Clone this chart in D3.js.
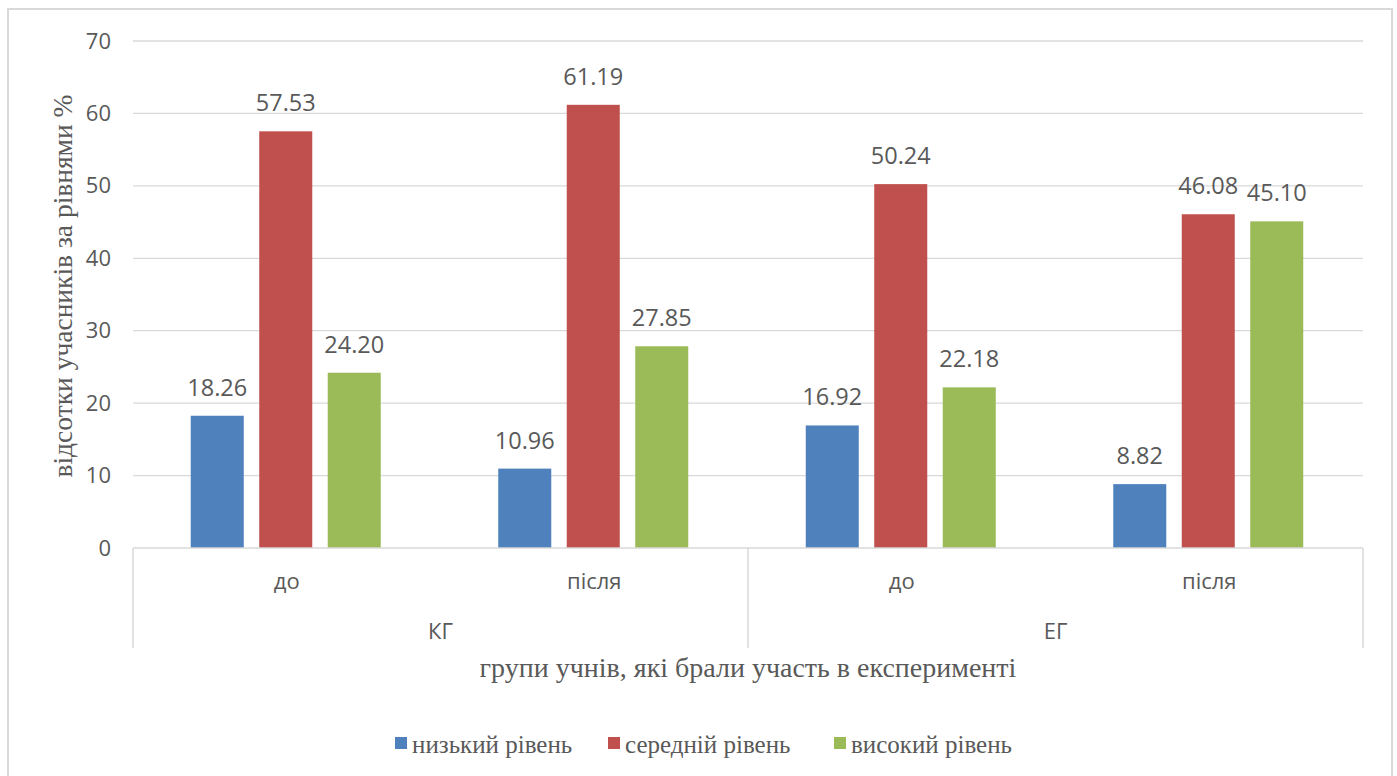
<!DOCTYPE html>
<html>
<head>
<meta charset="utf-8">
<script src="https://cdn.jsdelivr.net/npm/d3@7"></script>
<style>
  html, body { margin: 0; padding: 0; background: #fff; }
  svg { display: block; }
</style>
</head>
<body>
<svg id="chart" width="1397" height="776"></svg>
<script>
// Groups and stages along the category axis
const groups = ["КГ", "ЕГ"];
const stages = ["до", "після"];
// Series (levels) and their colours
const seriesNames = ["низький рівень", "середній рівень", "високий рівень"];
const seriesColors = ["#4F81BD", "#C0504D", "#9BBB59"];
// Values per series, ordered КГ-до, КГ-після, ЕГ-до, ЕГ-після
const lowLevel = [18.26, 10.96, 16.92, 8.82];
const midLevel = [57.53, 61.19, 50.24, 46.08];
const highLevel = [24.20, 27.85, 22.18, 45.10];
const yTicks = [0, 10, 20, 30, 40, 50, 60, 70];
const yTitle = "відсотки учасників за рівнями %";
const xTitle = "групи учнів, які брали участь в експерименті";

const seriesValues = [lowLevel, midLevel, highLevel];
const categories = [];
groups.forEach(g => stages.forEach(s => categories.push({ group: g, stage: s, key: g + "|" + s })));

const svg = d3.select("#chart");
const plotLeft = 133, plotRight = 1363, plotTop = 41, plotBottom = 548;
const textGray = "#595959";
const sans = "'Open Sans', 'Liberation Sans', sans-serif";
const serif = "'Liberation Serif', 'Times New Roman', serif";

// outer frame
svg.append("rect").attr("x", 8).attr("y", 9).attr("width", 1384).attr("height", 780)
  .attr("fill", "#fff").attr("stroke", "#d9d9d9").attr("stroke-width", 2);

const y = d3.scaleLinear().domain([0, 70]).range([plotBottom, plotTop]);
const x0 = d3.scaleBand().domain(categories.map(d => d.key)).range([plotLeft, plotRight]);
const x1 = d3.scaleBand().domain(seriesNames).range([-96, 94]).paddingInner(0.226);

// horizontal gridlines
svg.append("g").selectAll("line").data(yTicks.filter(t => t > 0)).join("line")
  .attr("x1", plotLeft).attr("x2", plotRight)
  .attr("y1", d => y(d)).attr("y2", d => y(d))
  .attr("stroke", "#d9d9d9").attr("stroke-width", 1.3);

// y axis labels
const yAxis = d3.axisLeft(y).tickValues(yTicks).tickSize(0).tickPadding(22).tickFormat(d3.format("d"));
const yg = svg.append("g").attr("transform", `translate(${plotLeft},0)`).call(yAxis);
yg.select(".domain").remove();
yg.selectAll("text").attr("font-family", sans).attr("font-size", 22).attr("fill", textGray);

// bars and value labels
categories.forEach((c, ci) => {
  const cx = x0(c.key) + x0.bandwidth() / 2;
  seriesNames.forEach((s, si) => {
    const v = seriesValues[si][ci];
    const bx = cx + x1(s);
    svg.append("rect")
      .attr("x", bx).attr("width", x1.bandwidth())
      .attr("y", y(v)).attr("height", y(0) - y(v))
      .attr("fill", seriesColors[si]);
    svg.append("text")
      .attr("x", bx + x1.bandwidth() / 2).attr("y", y(v) - 20)
      .attr("text-anchor", "middle")
      .attr("font-family", sans).attr("font-size", 23.5).attr("fill", textGray)
      .text(v.toFixed(2));
  });
});

// category axis line and separators
const axisColor = "#d9d9d9";
svg.append("line").attr("x1", plotLeft).attr("x2", plotRight).attr("y1", plotBottom).attr("y2", plotBottom)
  .attr("stroke", axisColor).attr("stroke-width", 1.5);
const groupEdges = [plotLeft, x0(categories[2].key), plotRight];
svg.append("g").selectAll("line").data(groupEdges).join("line")
  .attr("x1", d => d).attr("x2", d => d).attr("y1", plotBottom).attr("y2", 648)
  .attr("stroke", axisColor).attr("stroke-width", 1.5);

// stage labels
svg.append("g").selectAll("text").data(categories).join("text")
  .attr("x", d => x0(d.key) + x0.bandwidth() / 2).attr("y", 589)
  .attr("text-anchor", "middle")
  .attr("font-family", sans).attr("font-size", 22).attr("fill", textGray)
  .text(d => d.stage);

// group labels
svg.append("g").selectAll("text").data(groups).join("text")
  .attr("x", (g, i) => (groupEdges[i] + groupEdges[i + 1]) / 2).attr("y", 639)
  .attr("text-anchor", "middle")
  .attr("font-family", sans).attr("font-size", 22).attr("fill", textGray)
  .text(d => d);

// axis titles
svg.append("text")
  .attr("transform", `translate(72,286) rotate(-90)`)
  .attr("text-anchor", "middle")
  .attr("font-family", serif).attr("font-size", 27.5).attr("fill", textGray)
  .text(yTitle);
svg.append("text")
  .attr("x", 748).attr("y", 677)
  .attr("text-anchor", "middle")
  .attr("font-family", serif).attr("font-size", 28).attr("fill", textGray)
  .text(xTitle);

// legend
const legendX = [395, 608, 834];
const lg = svg.append("g");
seriesNames.forEach((s, i) => {
  lg.append("rect").attr("x", legendX[i]).attr("y", 737).attr("width", 12).attr("height", 12)
    .attr("fill", seriesColors[i]);
  lg.append("text").attr("x", legendX[i] + 17).attr("y", 753)
    .attr("font-family", serif).attr("font-size", 25).attr("fill", textGray)
    .text(s);
});
</script>
</body>
</html>
